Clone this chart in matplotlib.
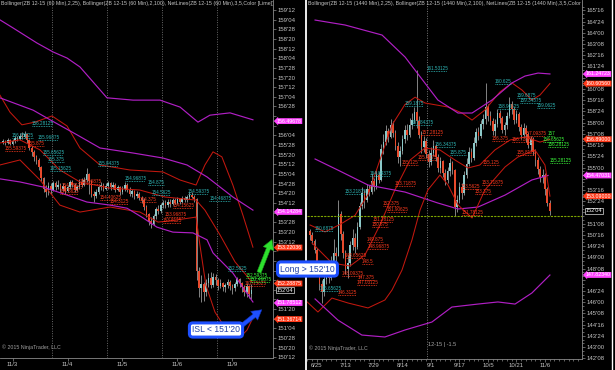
import numpy as np
import matplotlib.pyplot as plt
from matplotlib.patches import FancyArrowPatch
from matplotlib.lines import Line2D

plt.rcParams['font.family'] = ['Liberation Sans', 'DejaVu Sans']

# ---------------- ZB 12-15, 60 min (left panel) ----------------
left_first_open = 155.94
left_close = [155.97, 155.94, 156.00, 155.91, 155.97, 156.06, 156.03, 156.12, 156.09, 156.16,
              156.00, 155.81, 155.69, 155.56, 155.50, 155.31, 155.03, 154.75, 154.66, 154.81,
              154.72, 154.88, 154.78, 154.84, 154.75, 154.81, 154.69, 154.78, 154.91, 154.84,
              154.72, 154.78, 154.91, 154.84, 154.97, 155.12, 154.94, 154.62, 154.56, 154.66,
              154.78, 154.84, 154.75, 154.81, 154.88, 154.78, 154.84, 154.72, 154.78, 154.66,
              154.75, 154.84, 154.72, 154.62, 154.69, 154.56, 154.62, 154.50, 154.44, 154.28,
              154.09, 153.91, 153.84, 154.03, 154.22, 154.16, 154.31, 154.38, 154.31, 154.41,
              154.34, 154.44, 154.38, 154.47, 154.41, 154.50, 154.44, 154.53, 154.59, 154.53,
              154.47, 152.62, 152.16, 152.28, 152.06, 152.31, 152.44, 152.25, 152.47, 152.38,
              152.22, 152.31, 152.19, 152.25, 152.34, 152.22, 152.16, 152.28, 152.41, 152.31,
              152.19, 152.06, 152.22, 152.03, 152.12]
left_high = [156.03, 156.00, 156.06, 156.03, 156.03, 156.12, 156.12, 156.19, 156.22, 156.25,
             156.19, 156.03, 155.84, 155.75, 155.62, 155.53, 155.34, 155.06, 154.84, 154.91,
             154.88, 154.94, 154.94, 154.97, 154.88, 154.88, 154.84, 154.84, 154.97, 154.97,
             154.88, 154.84, 155.00, 155.03, 155.06, 155.28, 155.16, 154.97, 154.69, 154.75,
             154.84, 154.91, 154.88, 154.88, 154.94, 154.91, 154.91, 154.88, 154.84, 154.81,
             154.81, 154.91, 154.88, 154.78, 154.75, 154.72, 154.69, 154.66, 154.56, 154.50,
             154.31, 154.12, 154.00, 154.09, 154.28, 154.31, 154.38, 154.44, 154.44, 154.47,
             154.47, 154.50, 154.50, 154.53, 154.50, 154.56, 154.56, 154.59, 154.66, 154.66,
             154.59, 154.50, 152.72, 152.50, 152.34, 152.41, 152.56, 152.59, 152.56, 152.53,
             152.44, 152.41, 152.34, 152.31, 152.41, 152.38, 152.28, 152.34, 152.47, 152.44,
             152.34, 152.25, 152.31, 152.25, 152.28]
left_low = [155.91, 155.88, 155.91, 155.88, 155.88, 155.94, 155.97, 156.00, 156.03, 156.06,
            155.94, 155.75, 155.59, 155.47, 155.38, 155.22, 154.94, 154.66, 154.53, 154.59,
            154.62, 154.69, 154.72, 154.75, 154.66, 154.69, 154.62, 154.66, 154.75, 154.78,
            154.66, 154.69, 154.75, 154.78, 154.81, 154.91, 154.62, 154.53, 154.41, 154.50,
            154.62, 154.72, 154.69, 154.72, 154.75, 154.72, 154.75, 154.66, 154.69, 154.59,
            154.62, 154.69, 154.66, 154.56, 154.53, 154.47, 154.50, 154.44, 154.38, 154.19,
            154.00, 153.81, 153.72, 153.81, 153.97, 154.09, 154.12, 154.25, 154.25, 154.28,
            154.28, 154.31, 154.34, 154.34, 154.34, 154.38, 154.41, 154.41, 154.47, 154.50,
            154.41, 152.38, 151.94, 151.81, 151.84, 151.97, 152.19, 152.16, 152.19, 152.25,
            152.12, 152.16, 152.09, 152.06, 152.16, 152.12, 152.03, 152.09, 152.22, 152.19,
            152.06, 151.97, 151.94, 151.91, 151.88]

left_days = ['11/3', '11/4', '11/5', '11/6', '11/9']
left_day_pos = [4, 27, 50, 73, 96]
left_day_breaks = [20.5, 43.5, 66.5, 89.5]

# Bollinger(2,25) -> red, Bollinger(2,100) -> purple ; vertices (bar, price)
left_bb25_x = {'up': [-1.3, 2.9, 7.9, 13.4, 20.5, 26.8, 32.2, 40.6, 53.1, 66.9, 74.1, 80.8, 84.5, 87.9, 91.6, 96.2, 100.4, 104.6],
               'mid': [-1.3, 7.1, 15.5, 23.8, 32.2, 44.8, 57.3, 67.8, 80.8, 84.5, 90.8, 97.1, 104.6],
               'lo': [-1.3, 7.1, 15.5, 23.8, 32.2, 44.8, 57.3, 64.9, 72.0, 80.8, 82.4, 84.9, 88.7, 94.1, 99.2, 102.1, 104.6]}
left_bb25_y = {'up': [157.17, 156.73, 156.40, 156.47, 156.63, 156.37, 155.80, 155.36, 155.23, 155.18, 154.97, 154.84, 155.36, 155.70, 155.57, 154.84, 154.06, 153.23],
               'mid': [155.93, 156.01, 155.75, 155.23, 154.92, 154.76, 154.71, 154.53, 154.45, 154.19, 153.55, 152.85, 152.30],
               'lo': [155.36, 155.49, 154.97, 154.32, 154.14, 154.27, 154.14, 153.88, 153.93, 154.01, 153.29, 152.25, 151.55, 151.03, 150.90, 151.08, 151.40]}
left_bb100_x = {'up': [-1.3, 4.2, 14.2, 20.9, 26.8, 32.2, 43.5, 54.4, 65.7, 74.1, 81.6, 86.6, 95.0, 104.6],
                'mid': [-1.3, 12.6, 19.7, 31.0, 40.6, 54.4, 66.9, 77.0, 85.4, 96.2, 104.6],
                'lo': [-1.3, 7.1, 16.7, 26.8, 35.1, 44.8, 51.9, 58.6, 64.4, 71.1, 79.5, 85.4, 87.9, 96.2, 104.6]}
left_bb100_y = {'up': [159.12, 158.91, 158.52, 158.29, 158.13, 157.90, 157.10, 157.04, 157.04, 156.86, 156.47, 156.65, 156.71, 156.53],
                'mid': [157.10, 156.78, 156.53, 156.14, 155.80, 155.67, 155.54, 155.36, 155.05, 154.53, 154.19],
                'lo': [155.00, 154.92, 154.79, 154.58, 154.40, 154.32, 154.24, 153.99, 153.75, 153.62, 153.60, 153.42, 153.08, 152.56, 151.81]}

left_lbl_x = [12.1, 3.8, 14.6, 16.7, 18.8, 19.7, 39.7, 51.0, 60.7, 62.3, 77.4, 86.3, 94.2,
              0.8, 10.5, 32.2, 24.7, 23.8, 40.6, 44.8, 57.3, 71.1, 67.8, 66.9, 101.3,
              101.7, 103.3]
left_lbl_y = [156.37, 156.06, 156.01, 155.62, 155.44, 155.20, 155.33, 154.95, 154.84, 154.58, 154.60, 154.42, 152.61,
              155.72, 155.85, 154.87, 154.76, 154.61, 154.45, 154.35, 154.40, 154.24, 154.01, 153.86, 152.22,
              152.43, 152.33]
left_lbl_txt = ['156.28125', '156.15625', '155.96875', '155.65625', '155.375', '155.15625', '155.84375',
                '154.96875', '154.875', '154.5625', '154.59375', '154.46875', '152.5625',
                '155.59375', '155.875', '154.96875', '154.78125', '154.5625', '154.40625', '154.3125',
                '154.375', '154.15625', '153.96875', '153.8125', '152.15625',
                '152.59375', '152.46875']
left_lbl_col = ['c'] * 13 + ['r'] * 12 + ['g'] * 2

left_box_y = [156.49678, 154.14284, 153.22036, 152.28875, 151.78512, 151.36714]
left_box_col = ['m', 'm', 'r', 'r', 'm', 'r']
left_note_level = 152.66   # the "Long" note box hides these axis labels

# ---------------- ZB 12-15, 1440 min (right panel) ----------------
right_first_open = 150.75
right_close = [150.50, 150.12, 149.50, 148.62, 147.25, 146.66, 147.56, 148.31, 147.62, 148.69,
               149.31, 149.06, 151.88, 150.56, 149.28, 148.19, 148.62, 149.81, 150.31, 149.72,
               151.06, 152.41, 153.28, 152.84, 153.59, 153.34, 154.09, 153.69, 154.47, 154.16,
               156.25, 156.69, 157.44, 157.06, 157.81, 157.31, 156.47, 155.69, 156.12, 156.91,
               157.53, 157.16, 157.84, 158.19, 158.72, 158.09, 157.19, 156.34, 156.75, 155.88,
               155.34, 155.97, 156.41, 155.69, 154.94, 155.41, 154.62, 154.19, 154.78, 155.28,
               154.84, 152.34, 152.81, 153.72, 153.31, 154.47, 155.25, 156.03, 155.66, 156.66,
               157.34, 157.12, 157.88, 158.22, 159.03, 158.41, 158.09, 157.44, 157.91, 158.66,
               158.28, 157.53, 157.84, 158.47, 159.22, 158.91, 158.19, 158.56, 157.72, 157.16,
               157.66, 157.22, 156.53, 156.91, 156.06, 155.47, 154.91, 154.34, 154.53, 153.59,
               152.66, 152.12]
right_high = [150.88, 150.72, 150.25, 149.62, 148.75, 147.50, 147.81, 148.62, 148.50, 149.12,
              150.22, 149.69, 152.81, 152.09, 150.75, 149.50, 149.16, 150.09, 150.88, 150.62,
              151.38, 152.72, 153.69, 153.47, 153.91, 153.84, 154.62, 154.28, 154.84, 154.69,
              156.59, 157.22, 157.84, 157.62, 158.22, 158.12, 157.50, 156.72, 156.41, 157.19,
              157.84, 157.91, 158.34, 158.66, 159.06, 161.53, 158.47, 157.41, 157.12, 156.94,
              156.16, 156.34, 156.84, 156.56, 155.88, 155.72, 155.53, 154.91, 155.03, 155.66,
              155.44, 154.88, 153.16, 154.06, 153.97, 154.78, 155.62, 156.38, 156.31, 157.03,
              157.62, 157.69, 158.19, 158.59, 160.62, 159.25, 158.78, 158.31, 158.22, 158.94,
              158.84, 158.47, 158.06, 158.69, 159.69, 159.44, 159.06, 158.84, 158.72, 157.94,
              157.97, 157.81, 157.34, 157.09, 157.03, 156.22, 155.72, 155.09, 154.91, 154.66,
              153.72, 152.81]
right_low = [150.16, 149.88, 149.31, 148.41, 146.81, 145.97, 146.44, 147.19, 147.28, 147.50,
             148.75, 148.31, 149.62, 150.19, 148.94, 147.91, 147.62, 148.44, 149.47, 149.31,
             149.59, 150.88, 152.22, 152.31, 152.69, 153.09, 153.25, 153.41, 153.56, 153.94,
             154.09, 155.88, 156.53, 156.72, 156.94, 157.03, 156.19, 155.31, 155.12, 155.88,
             156.66, 156.81, 157.03, 157.59, 158.00, 157.66, 156.94, 155.97, 156.06, 155.62,
             155.06, 155.19, 155.78, 155.41, 154.72, 154.66, 154.34, 153.81, 153.97, 154.44,
             154.56, 151.78, 152.06, 152.62, 152.91, 153.16, 154.31, 155.09, 155.34, 155.53,
             156.41, 156.84, 156.97, 157.56, 157.88, 158.09, 157.81, 157.19, 157.12, 157.72,
             157.97, 157.28, 157.16, 157.59, 158.31, 158.56, 157.91, 157.97, 157.47, 156.88,
             156.97, 156.72, 156.28, 156.12, 155.81, 155.09, 154.56, 154.06, 153.97, 153.19,
             152.41, 151.84]

right_dates = ['6/25', '7/13', '7/29', '8/14', '9/1', '9/17', '10/5', '10/21', '11/6']
right_date_pos = [3, 15, 27, 39, 51, 63, 75, 87, 99]
right_contract_break = 49.5
right_green_level = 151.76

right_bb25_x = {'up': [0.1, 6.4, 12.7, 19.0, 24.5, 29.5, 34.6, 40.0, 44.3, 48.5, 58.2, 64.1, 68.3, 73.7, 80.0, 85.1, 89.3, 93.5, 96.9, 101.1],
                'mid': [0.9, 9.3, 16.9, 23.2, 29.5, 35.8, 42.2, 48.5, 54.8, 61.1, 66.6, 71.6, 77.9, 84.3, 90.6, 96.9, 101.1],
                'lo': [-2.0, 3.4, 9.3, 16.1, 24.5, 31.6, 34.6, 38.8, 43.0, 46.4, 49.7, 54.8, 58.2, 62.4, 68.3, 73.7, 82.2, 87.6, 94.8, 99.0, 101.1]}
right_bb25_y = {'up': [151.16, 150.70, 151.20, 151.80, 153.20, 155.50, 157.84, 159.20, 159.70, 159.31, 159.04, 158.64, 158.17, 158.84, 160.04, 160.65, 160.18, 159.51, 159.84, 160.61],
                'mid': [149.96, 148.62, 148.42, 149.16, 151.16, 153.50, 155.50, 156.30, 156.17, 155.50, 154.97, 155.17, 156.17, 156.84, 157.04, 156.70, 156.89],
                'lo': [146.15, 145.35, 146.28, 145.95, 145.62, 146.15, 146.82, 148.15, 150.16, 152.16, 153.50, 154.50, 153.83, 152.50, 151.63, 153.50, 155.04, 155.70, 156.17, 155.17, 153.09]}
right_bb100_x = {'up': [2.2, 14.8, 30.4, 40.1, 53.9, 62.4, 68.3, 76.7, 85.1, 90.6, 96.1, 101.1],
                 'mid': [2.2, 11.8, 24.5, 40.1, 53.9, 62.4, 70.8, 82.2, 93.5, 100.3],
                 'lo': [2.2, 11.8, 21.9, 31.6, 40.1, 51.4, 59.8, 70.8, 79.2, 86.4, 93.5, 101.1]}
right_bb100_y = {'up': [164.85, 164.52, 163.85, 162.38, 159.51, 158.64, 158.64, 159.51, 160.65, 161.11, 161.31, 161.25],
                 'mid': [155.57, 154.83, 153.83, 153.36, 152.63, 152.23, 152.36, 153.16, 154.17, 154.47],
                 'lo': [146.22, 144.81, 143.81, 143.68, 144.15, 144.68, 145.68, 145.88, 146.02, 145.88, 146.62, 147.82]}

right_lbl_x = [49.3, 77.9, 87.2, 88.5, 95.6, 40.1, 79.2, 43.0, 52.7, 59.0, 25.3, 14.8, 2.2, 4.3,
               47.2, 90.4, 76.7, 85.1, 38.8, 45.5, 87.0, 72.9, 35.8, 72.4, 63.6, 69.5, 30.8, 32.5,
               26.6, 26.2, 64.1, 24.0, 24.5, 14.8, 21.9, 13.5, 20.3, 19.8, 11.8,
               100.0, 98.2, 100.3, 101.1]
right_lbl_y = [161.45, 160.58, 159.64, 159.31, 158.98, 159.11, 158.91, 157.84, 156.37, 155.84, 154.43, 153.23, 150.76, 146.75,
               157.17, 157.11, 156.77, 156.70, 155.17, 155.50, 155.84, 155.17, 153.77, 153.80, 153.58, 153.22, 152.43, 152.03,
               151.36, 151.03, 151.83, 150.03, 149.56, 148.96, 148.56, 147.76, 147.49, 147.15, 146.48,
               157.08, 156.70, 156.37, 155.30]
right_lbl_txt = ['161.53125', '160.625', '159.6875', '159.34375', '159.0625', '159.1875', '158.90625',
                 '157.84375', '156.34375', '155.875', '154.84375', '153.21875', '150.6875', '146.65625',
                 '157.28125', '157.09375', '156.375', '156.71875', '155.125', '155.4375', '155.8125',
                 '155.125', '153.71875', '153.71875', '153.5625', '153.375', '152.375', '151.90625',
                 '151.28125', '150.875', '151.78125', '149.875', '148.96875', '148.65625', '148.5',
                 '148.09375', '147.375', '147.03125', '146.3125',
                 '157', '156.65625', '156.28125', '155.28125']
right_lbl_col = ['c'] * 14 + ['r'] * 25 + ['g'] * 4

right_box_y = [161.24723, 160.60560, 156.89000, 154.47031, 153.09000, 147.82340]
right_box_col = ['m', 'r', 'r', 'm', 'r', 'm']

UP, DN, WICK = '#8cc9c9', '#e84a2c', '#a6a6a6'
RED_BB, PUR_BB = '#c2180f', '#b01fc4'
LBL = {'c': '#2fb8b8', 'r': '#ff3b1f', 'g': '#3cff3c'}
BOX = {'m': '#ff44ff', 'r': '#ff3a1a'}
GREY = '#c4c4c4'


def fmt32(p):
    whole = int(p)
    n = int(round((p - whole) * 32))
    if n == 32:
        whole, n = whole + 1, 0
    return "%d'%02d" % (whole, n)


def tick_labels(ticks, covered, gap):
    # labels sitting under an opaque price box are not visible in the original
    return ['' if min(abs(t - c) for c in covered) < gap else fmt32(t) for t in ticks]


def draw_panel(ax, first_open, close, high, low, bb25x, bb25y, bb100x, bb100y,
               lx, ly, lt, lc, box_y, box_c, title):
    close = np.array(close)
    opens = np.concatenate([[first_open], close[:-1]])
    high = np.maximum(np.array(high), np.maximum(opens, close))
    low = np.minimum(np.array(low), np.minimum(opens, close))
    x = np.arange(len(close))
    ax.set_facecolor('black')
    ax.vlines(x, low, high, color=WICK, lw=0.55, zorder=2)
    body = np.maximum(np.abs(close - opens), 0.012)
    cols = [UP if c >= o else DN for o, c in zip(opens, close)]
    ax.bar(x, body, bottom=np.minimum(opens, close), width=0.7, color=cols, lw=0, zorder=3)
    for k in ('up', 'mid', 'lo'):
        ax.plot(bb25x[k], bb25y[k], color=RED_BB, lw=0.75, zorder=4)
        ax.plot(bb100x[k], bb100y[k], color=PUR_BB, lw=0.85, zorder=4)
    for xx, yy, tt, cc in zip(lx, ly, lt, lc):
        ax.text(xx, yy, tt, color=LBL[cc], fontsize=3.3, va='bottom', ha='left', zorder=6)
        ax.hlines(yy, xx, xx + len(tt) * 0.95, colors=LBL[cc], lw=0.6,
                  linestyles=(0, (1, 1)), zorder=6)
    ytr = ax.get_yaxis_transform()
    for yy, cc in zip(box_y, box_c):
        ax.text(1.014, yy, '%.5f' % yy, transform=ytr, fontsize=3.8, color='white',
                va='center', ha='left', zorder=8,
                bbox=dict(boxstyle='larrow,pad=0.08', fc=BOX[cc], ec='none'))
    ax.text(1.014, close[-1], fmt32(close[-1]), transform=ytr, fontsize=4.0, color='white',
            va='center', ha='left', zorder=8,
            bbox=dict(boxstyle='square,pad=0.1', fc='black', ec='#dddddd', lw=0.5))
    ax.text(0.003, 0.997, title, transform=ax.transAxes, fontsize=3.8, color=GREY,
            va='top', ha='left', clip_on=True, zorder=9)
    ax.text(0.006, 0.022, '\u00a9 2015 NinjaTrader, LLC', transform=ax.transAxes,
            fontsize=3.8, color='#a0a0a0', va='bottom', ha='left', zorder=9)
    for s in ('top', 'left'):
        ax.spines[s].set_visible(False)
    for s in ('right', 'bottom'):
        ax.spines[s].set_color('#8a8a8a')
        ax.spines[s].set_linewidth(0.6)
    ax.yaxis.tick_right()
    ax.tick_params(axis='both', which='both', colors='#8a8a8a', labelcolor=GREY,
                   labelsize=4.3, length=2, width=0.5, pad=1)
    ax.tick_params(axis='both', which='minor', length=1.2)
    return list(box_y) + [close[-1]]


fig = plt.figure(figsize=(6.15, 3.7), dpi=100, facecolor='black')
axL = fig.add_axes([0.0, 12 / 370, 273 / 615, 358 / 370])
axR = fig.add_axes([307 / 615, 11 / 370, 275 / 615, 359 / 370])

covL = draw_panel(axL, left_first_open, left_close, left_high, left_low,
                  left_bb25_x, left_bb25_y, left_bb100_x, left_bb100_y,
                  left_lbl_x, left_lbl_y, left_lbl_txt, left_lbl_col, left_box_y, left_box_col,
                  'Bollinger(ZB 12-15 (60 Min),2,25), Bollinger(ZB 12-15 (60 Min),2,100), '
                  'NetLines(ZB 12-15 (60 Min),3,5,Color [Lime])')
axL.set_xlim(-1.26, 113)
axL.set_ylim(150.359, 159.634)
lt = np.arange(150.375, 159.5, 0.25)
labs = tick_labels(lt, covL, 0.13)
labs = ['' if abs(t - left_note_level) < 0.22 else s for t, s in zip(lt, labs)]
axL.set_yticks(lt, labs)
axL.set_xticks(left_day_pos, left_days)
for b in left_day_breaks:
    axL.axvline(b, color='#6a6a6a', lw=0.7, ls=(0, (1, 1.5)), zorder=1)

covR = draw_panel(axR, right_first_open, right_close, right_high, right_low,
                  right_bb25_x, right_bb25_y, right_bb100_x, right_bb100_y,
                  right_lbl_x, right_lbl_y, right_lbl_txt, right_lbl_col, right_box_y, right_box_col,
                  'Bollinger(ZB 12-15 (1440 Min),2,25), Bollinger(ZB 12-15 (1440 Min),2,100), '
                  'NetLines(ZB 12-15 (1440 Min),3,5,Color [Lime])')
axR.set_xlim(-1.2, 114.6)
axR.set_ylim(142.21, 166.19)
rt = np.arange(142.25, 166.0, 0.75)
axR.set_yticks(rt, tick_labels(rt, covR, 0.34))
axR.set_yticks(np.arange(142.25, 166.0, 0.25), minor=True)
axR.set_xticks(right_date_pos, right_dates)
axR.set_xticks(np.arange(-1, 114, 2), minor=True)
axR.axvline(right_contract_break, color='#7a7a7a', lw=0.7, ls=(0, (1, 1.5)), zorder=1)
axR.axhline(right_green_level, color='#7fa600', lw=0.8, ls=(0, (2, 1)), zorder=5)
axR.text(right_contract_break + 0.4, 0.033, '12-15 | -1.5', transform=axR.get_xaxis_transform(),
         fontsize=4.0, color='#a8a8a8', va='bottom', ha='left')

# panel separators
fig.add_artist(Line2D([306 / 615, 306 / 615], [0, 1], color='white', lw=1.3, transform=fig.transFigure))
fig.add_artist(Line2D([612 / 615, 612 / 615], [0, 1], color='white', lw=1.0, transform=fig.transFigure))

# trade notes
fig.add_artist(FancyArrowPatch((258 / 615, 95 / 370), (273 / 615, 133 / 370), transform=fig.transFigure,
                               arrowstyle='simple,head_length=7,head_width=8,tail_width=3',
                               mutation_scale=1, fc='#2ee02e', ec='#1a9a1a', lw=0.4, zorder=10))
fig.add_artist(FancyArrowPatch((240 / 615, 43 / 370), (264 / 615, 62 / 370), transform=fig.transFigure,
                               arrowstyle='simple,head_length=7,head_width=8,tail_width=3',
                               mutation_scale=1, fc='#1e50ff', ec='#1030b0', lw=0.4, zorder=10))
fig.text(307.5 / 615, 101 / 370, "Long > 152'10", fontsize=6.2, color='#2040a8', ha='center', va='center',
         zorder=11, bbox=dict(boxstyle='round,pad=0.3,rounding_size=0.4', fc='white', ec='#1e50ff', lw=2.2))
fig.text(216 / 615, 40 / 370, "ISL < 151'20", fontsize=6.2, color='#2040a8', ha='center', va='center',
         zorder=11, bbox=dict(boxstyle='round,pad=0.3,rounding_size=0.4', fc='white', ec='#1e50ff', lw=2.2))

fig.savefig('out.png', dpi=100, facecolor='black')
